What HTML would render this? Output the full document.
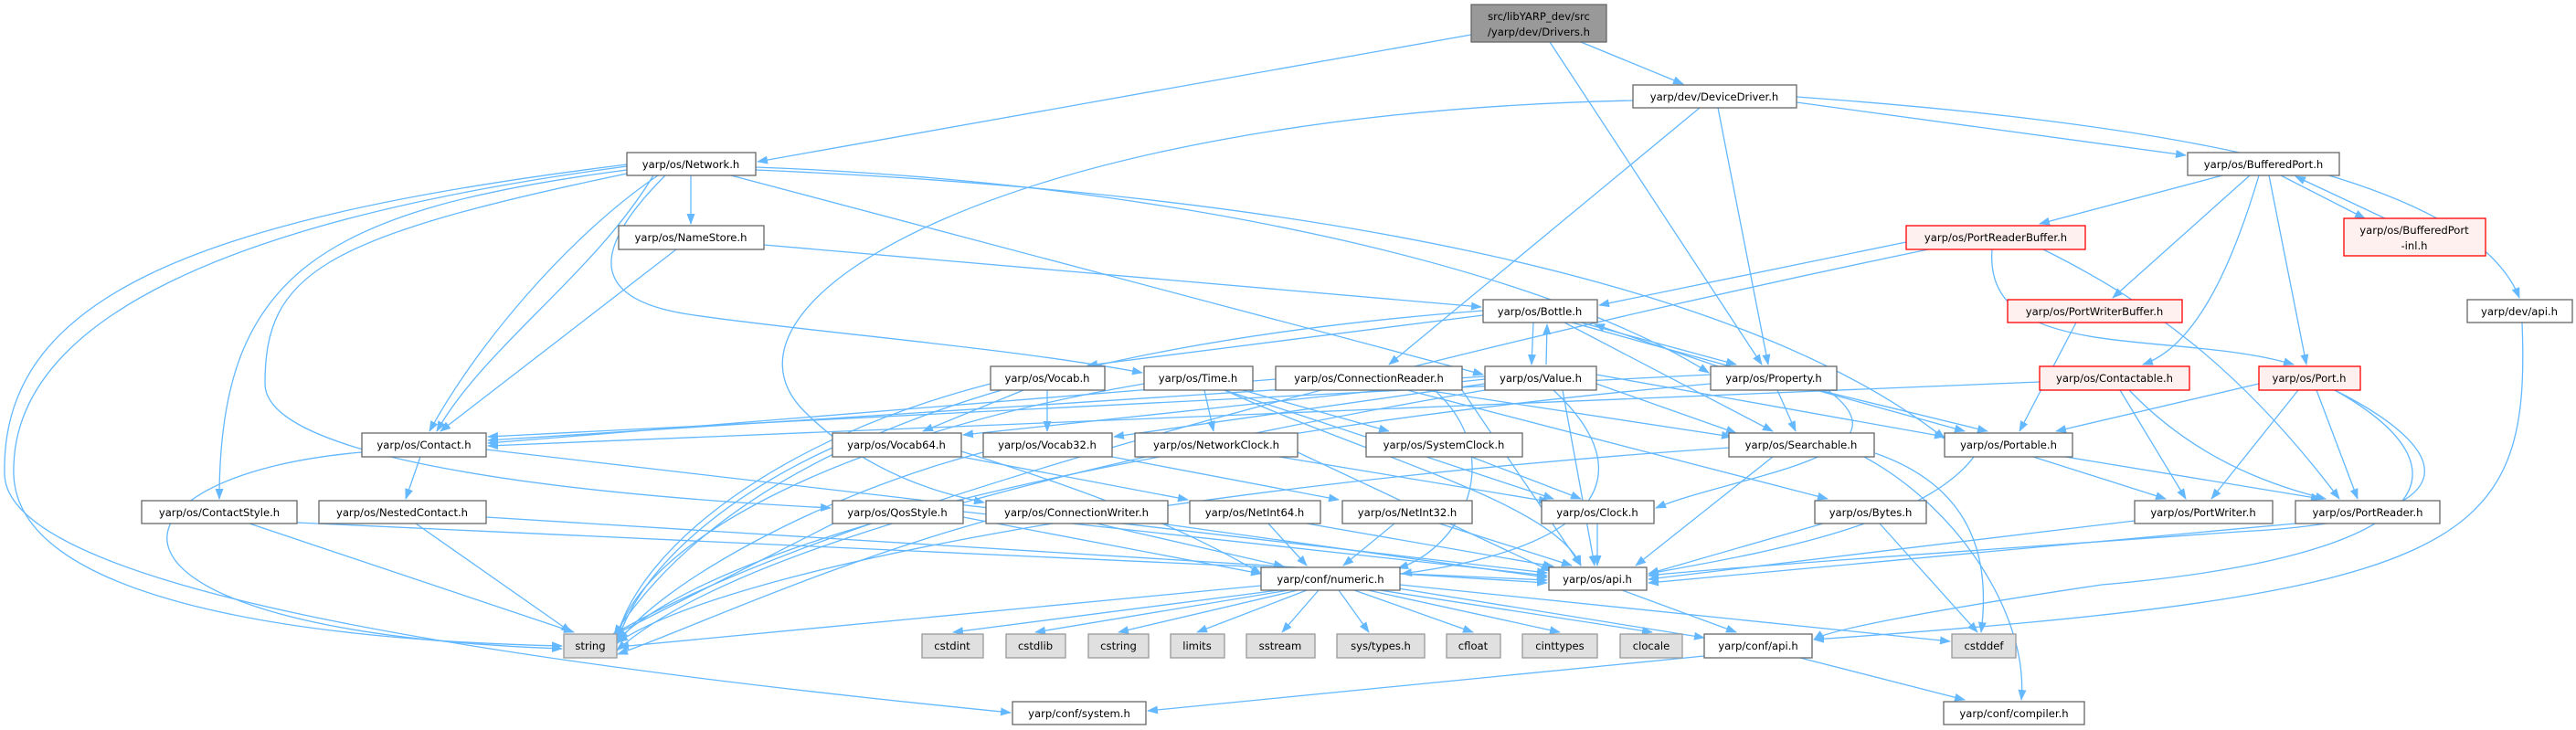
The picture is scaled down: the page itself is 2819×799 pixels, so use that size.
<!DOCTYPE html>
<html><head><meta charset="utf-8">
<style>
html,body{margin:0;padding:0;background:#fff;}
svg{display:block;}
text{font-family:"DejaVu Sans","Liberation Sans",sans-serif;font-size:11.6px;fill:#000;text-anchor:middle;}
.n rect{fill:#fff;stroke:#666;stroke-width:1.3;}
.g rect{fill:#e0e0e0;stroke:#999;stroke-width:1.3;}
.r rect{fill:#fff0f0;stroke:#f00;stroke-width:1.3;}
.e path{fill:none;stroke:#63b8ff;stroke-width:1.3;}
</style></head><body>
<svg width="2819" height="799" viewBox="0 0 2819 799" xmlns="http://www.w3.org/2000/svg">
<defs><marker id="a" markerWidth="12" markerHeight="9" refX="11" refY="4.5" orient="auto" markerUnits="userSpaceOnUse"><path d="M0,0 L12,4.5 L0,9 z" fill="#63b8ff"/></marker></defs>
<g class="e">
<path d="M1610,38 L829,177" marker-end="url(#a)"/>
<path d="M1730,46 L1842,92" marker-end="url(#a)"/>
<path d="M1696,46 L1928,399" marker-end="url(#a)"/>
<path d="M1966,112 L2392,170" marker-end="url(#a)"/>
<path d="M1966,106 C2300,130 2700,180 2757,326" marker-end="url(#a)"/>
<path d="M1880,118 L1935,399" marker-end="url(#a)"/>
<path d="M1860,118 L1520,399" marker-end="url(#a)"/>
<path d="M1787,110 C1100,125 760,330 880,450 C950,520 1030,540 1077,550" marker-end="url(#a)"/>
<path d="M756,192 L756,245" marker-end="url(#a)"/>
<path d="M720,192 C620,260 520,380 470,472" marker-end="url(#a)"/>
<path d="M715,192 C650,300 530,380 478,472" marker-end="url(#a)"/>
<path d="M686,186 C350,230 240,300 240,546" marker-end="url(#a)"/>
<path d="M686,182 C250,240 10,350 15,520 C20,650 300,700 615,707" marker-end="url(#a)"/>
<path d="M686,180 C200,240 0,330 5,520 C10,640 500,720 1106,780" marker-end="url(#a)"/>
<path d="M728,192 C640,280 650,330 760,345 C900,365 1100,380 1250,408" marker-end="url(#a)"/>
<path d="M686,190 C350,260 290,300 290,420 C290,500 600,540 909,556" marker-end="url(#a)"/>
<path d="M800,192 L1623,410" marker-end="url(#a)"/>
<path d="M827,183 C1300,200 1700,300 1870,408" marker-end="url(#a)"/>
<path d="M827,186 C1400,210 1900,300 2128,480" marker-end="url(#a)"/>
<path d="M740,273 L482,472" marker-end="url(#a)"/>
<path d="M836,268 L1621,336" marker-end="url(#a)"/>
<path d="M2432,192 L2232,245" marker-end="url(#a)"/>
<path d="M2462,192 L2312,326" marker-end="url(#a)"/>
<path d="M2472,192 C2440,300 2400,380 2345,399" marker-end="url(#a)"/>
<path d="M2483,192 L2524,399" marker-end="url(#a)"/>
<path d="M2496,192 L2588,239" marker-end="url(#a)"/>
<path d="M2610,239 L2512,193" marker-end="url(#a)"/>
<path d="M2236,273 C2350,330 2450,400 2560,546" marker-end="url(#a)"/>
<path d="M2086,265 L1750,334" marker-end="url(#a)"/>
<path d="M2110,273 C1500,400 900,560 670,695" marker-end="url(#a)"/>
<path d="M2180,273 C2170,400 2380,360 2510,399" marker-end="url(#a)"/>
<path d="M2272,353 L2210,472" marker-end="url(#a)"/>
<path d="M2760,353 C2770,600 2700,650 1985,700" marker-end="url(#a)"/>
<path d="M1623,345 L1190,400" marker-end="url(#a)"/>
<path d="M1678,353 L1676,399" marker-end="url(#a)"/>
<path d="M1692,399 L1693,355" marker-end="url(#a)"/>
<path d="M1730,353 L1900,399" marker-end="url(#a)"/>
<path d="M1880,401 L1745,355" marker-end="url(#a)"/>
<path d="M1712,353 L1940,472" marker-end="url(#a)"/>
<path d="M1720,353 L2150,472" marker-end="url(#a)"/>
<path d="M1623,340 C1100,380 800,500 672,695" marker-end="url(#a)"/>
<path d="M1625,415 L1054,476" marker-end="url(#a)"/>
<path d="M1625,420 L1219,478" marker-end="url(#a)"/>
<path d="M1747,420 L1900,474" marker-end="url(#a)"/>
<path d="M1747,410 L2128,478" marker-end="url(#a)"/>
<path d="M1700,427 C1800,520 1750,600 1534,628" marker-end="url(#a)"/>
<path d="M1710,427 L1745,619" marker-end="url(#a)"/>
<path d="M1625,427 C1200,500 800,600 675,712" marker-end="url(#a)"/>
<path d="M1625,412 L534,482" marker-end="url(#a)"/>
<path d="M1945,427 L1965,472" marker-end="url(#a)"/>
<path d="M1990,427 L2175,472" marker-end="url(#a)"/>
<path d="M1872,420 C1300,470 800,580 676,700" marker-end="url(#a)"/>
<path d="M2000,427 C2100,500 1900,520 1812,556" marker-end="url(#a)"/>
<path d="M1872,410 L534,478" marker-end="url(#a)"/>
<path d="M1318,427 L1328,472" marker-end="url(#a)"/>
<path d="M1360,427 L1520,472" marker-end="url(#a)"/>
<path d="M1340,427 L1700,546" marker-end="url(#a)"/>
<path d="M1340,427 C1500,500 1700,550 1730,619" marker-end="url(#a)"/>
<path d="M1252,420 C900,480 700,600 676,697" marker-end="url(#a)"/>
<path d="M1120,427 L1010,472" marker-end="url(#a)"/>
<path d="M1146,427 L1146,472" marker-end="url(#a)"/>
<path d="M1084,420 C850,480 700,600 675,698" marker-end="url(#a)"/>
<path d="M1396,415 L534,485" marker-end="url(#a)"/>
<path d="M1540,427 L2000,546" marker-end="url(#a)"/>
<path d="M1560,427 L1895,478" marker-end="url(#a)"/>
<path d="M1570,427 C1650,500 1600,600 1530,622" marker-end="url(#a)"/>
<path d="M1600,427 L1730,619" marker-end="url(#a)"/>
<path d="M2232,418 L534,488" marker-end="url(#a)"/>
<path d="M2320,427 L2392,546" marker-end="url(#a)"/>
<path d="M2330,427 C2400,500 2480,530 2545,546" marker-end="url(#a)"/>
<path d="M2472,420 L2250,472" marker-end="url(#a)"/>
<path d="M2515,427 L2420,546" marker-end="url(#a)"/>
<path d="M2535,427 L2580,546" marker-end="url(#a)"/>
<path d="M2555,427 C2700,500 2700,570 2450,582 C2200,600 1900,620 1804,630" marker-end="url(#a)"/>
<path d="M2555,427 C2720,520 2650,610 2300,640 C2100,670 2000,690 1985,700" marker-end="url(#a)"/>
<path d="M460,500 L444,546" marker-end="url(#a)"/>
<path d="M396,495 C100,520 60,690 615,710" marker-end="url(#a)"/>
<path d="M532,492 L1693,627" marker-end="url(#a)"/>
<path d="M1892,490 C1300,530 800,620 676,703" marker-end="url(#a)"/>
<path d="M1940,500 L1790,619" marker-end="url(#a)"/>
<path d="M2052,496 C2150,530 2180,600 2168,692" marker-end="url(#a)"/>
<path d="M2040,500 C2150,560 2220,680 2212,766" marker-end="url(#a)"/>
<path d="M2225,500 L2370,546" marker-end="url(#a)"/>
<path d="M2260,500 L2540,546" marker-end="url(#a)"/>
<path d="M2160,500 C2100,580 1900,610 1804,628" marker-end="url(#a)"/>
<path d="M911,490 C800,540 700,620 676,702" marker-end="url(#a)"/>
<path d="M1052,500 L1300,547" marker-end="url(#a)"/>
<path d="M1052,494 C1200,540 1300,580 1380,628" marker-end="url(#a)"/>
<path d="M1076,495 C900,540 720,640 676,704" marker-end="url(#a)"/>
<path d="M1217,500 L1465,547" marker-end="url(#a)"/>
<path d="M1400,500 L1695,549" marker-end="url(#a)"/>
<path d="M1420,495 L1697,625" marker-end="url(#a)"/>
<path d="M1610,500 L1730,546" marker-end="url(#a)"/>
<path d="M912,573 L670,696" marker-end="url(#a)"/>
<path d="M1054,566 L1380,628" marker-end="url(#a)"/>
<path d="M1054,560 L1693,630" marker-end="url(#a)"/>
<path d="M1200,573 L1405,620" marker-end="url(#a)"/>
<path d="M1079,570 C900,620 750,690 676,716" marker-end="url(#a)"/>
<path d="M1270,573 L1693,632" marker-end="url(#a)"/>
<path d="M1388,573 L1430,619" marker-end="url(#a)"/>
<path d="M1430,573 L1700,620" marker-end="url(#a)"/>
<path d="M1526,573 L1470,619" marker-end="url(#a)"/>
<path d="M1575,573 L1720,619" marker-end="url(#a)"/>
<path d="M1748,573 L1748,619" marker-end="url(#a)"/>
<path d="M2057,573 L2164,692" marker-end="url(#a)"/>
<path d="M1995,573 L1804,628" marker-end="url(#a)"/>
<path d="M2336,570 L1804,634" marker-end="url(#a)"/>
<path d="M2512,573 L1804,638" marker-end="url(#a)"/>
<path d="M273,573 L628,692" marker-end="url(#a)"/>
<path d="M325,572 L1693,635" marker-end="url(#a)"/>
<path d="M455,573 L625,692" marker-end="url(#a)"/>
<path d="M532,566 L1693,638" marker-end="url(#a)"/>
<path d="M1399,646 L1043,692" marker-end="url(#a)"/>
<path d="M1410,646 L1133,692" marker-end="url(#a)"/>
<path d="M1420,646 L1224,692" marker-end="url(#a)"/>
<path d="M1430,646 L1310,692" marker-end="url(#a)"/>
<path d="M1443,646 L1403,692" marker-end="url(#a)"/>
<path d="M1465,646 L1498,692" marker-end="url(#a)"/>
<path d="M1482,646 L1612,692" marker-end="url(#a)"/>
<path d="M1497,646 L1707,692" marker-end="url(#a)"/>
<path d="M1510,646 L1808,692" marker-end="url(#a)"/>
<path d="M1530,644 L1865,698" marker-end="url(#a)"/>
<path d="M1532,640 L2134,702" marker-end="url(#a)"/>
<path d="M1380,641 L677,708" marker-end="url(#a)"/>
<path d="M1775,646 L1900,692" marker-end="url(#a)"/>
<path d="M1865,718 L1256,778" marker-end="url(#a)"/>
<path d="M1970,720 L2150,766" marker-end="url(#a)"/>
</g>
<g class="g"><rect x="1610" y="5" width="148" height="41" style="fill:#999;stroke:#666"/><text x="1684" y="22">src/libYARP_dev/src</text><text x="1684" y="39">/yarp/dev/Drivers.h</text></g>
<g class="n"><rect x="1787" y="93" width="179" height="25"/><text x="1876" y="110">yarp/dev/DeviceDriver.h</text></g>
<g class="n"><rect x="686" y="167" width="141" height="25"/><text x="756" y="184">yarp/os/Network.h</text></g>
<g class="n"><rect x="2394" y="167" width="166" height="25"/><text x="2477" y="184">yarp/os/BufferedPort.h</text></g>
<g class="n"><rect x="677" y="247" width="159" height="26"/><text x="756" y="264">yarp/os/NameStore.h</text></g>
<g class="r"><rect x="2086" y="247" width="196" height="26"/><text x="2184" y="264">yarp/os/PortReaderBuffer.h</text></g>
<g class="r"><rect x="2565" y="239" width="155" height="41"/><text x="2642" y="256">yarp/os/BufferedPort</text><text x="2642" y="273">-inl.h</text></g>
<g class="n"><rect x="1623" y="328" width="125" height="25"/><text x="1685" y="345">yarp/os/Bottle.h</text></g>
<g class="r"><rect x="2197" y="328" width="191" height="25"/><text x="2292" y="345">yarp/os/PortWriterBuffer.h</text></g>
<g class="n"><rect x="2700" y="328" width="115" height="25"/><text x="2757" y="345">yarp/dev/api.h</text></g>
<g class="n"><rect x="1084" y="401" width="125" height="26"/><text x="1146" y="418">yarp/os/Vocab.h</text></g>
<g class="n"><rect x="1252" y="401" width="119" height="26"/><text x="1311" y="418">yarp/os/Time.h</text></g>
<g class="n"><rect x="1396" y="401" width="204" height="26"/><text x="1498" y="418">yarp/os/ConnectionReader.h</text></g>
<g class="n"><rect x="1625" y="401" width="122" height="26"/><text x="1686" y="418">yarp/os/Value.h</text></g>
<g class="n"><rect x="1872" y="401" width="138" height="26"/><text x="1941" y="418">yarp/os/Property.h</text></g>
<g class="r"><rect x="2232" y="401" width="164" height="26"/><text x="2314" y="418">yarp/os/Contactable.h</text></g>
<g class="r"><rect x="2472" y="401" width="111" height="26"/><text x="2527" y="418">yarp/os/Port.h</text></g>
<g class="n"><rect x="396" y="474" width="136" height="26"/><text x="464" y="491">yarp/os/Contact.h</text></g>
<g class="n"><rect x="911" y="474" width="141" height="26"/><text x="981" y="491">yarp/os/Vocab64.h</text></g>
<g class="n"><rect x="1076" y="474" width="141" height="26"/><text x="1146" y="491">yarp/os/Vocab32.h</text></g>
<g class="n"><rect x="1242" y="474" width="178" height="26"/><text x="1331" y="491">yarp/os/NetworkClock.h</text></g>
<g class="n"><rect x="1495" y="474" width="171" height="26"/><text x="1580" y="491">yarp/os/SystemClock.h</text></g>
<g class="n"><rect x="1892" y="474" width="159" height="26"/><text x="1971" y="491">yarp/os/Searchable.h</text></g>
<g class="n"><rect x="2128" y="474" width="140" height="26"/><text x="2198" y="491">yarp/os/Portable.h</text></g>
<g class="n"><rect x="155" y="548" width="170" height="25"/><text x="240" y="565">yarp/os/ContactStyle.h</text></g>
<g class="n"><rect x="349" y="548" width="183" height="25"/><text x="440" y="565">yarp/os/NestedContact.h</text></g>
<g class="n"><rect x="911" y="548" width="143" height="25"/><text x="982" y="565">yarp/os/QosStyle.h</text></g>
<g class="n"><rect x="1079" y="548" width="199" height="25"/><text x="1178" y="565">yarp/os/ConnectionWriter.h</text></g>
<g class="n"><rect x="1302" y="548" width="143" height="25"/><text x="1373" y="565">yarp/os/NetInt64.h</text></g>
<g class="n"><rect x="1469" y="548" width="142" height="25"/><text x="1540" y="565">yarp/os/NetInt32.h</text></g>
<g class="n"><rect x="1687" y="548" width="123" height="25"/><text x="1748" y="565">yarp/os/Clock.h</text></g>
<g class="n"><rect x="1986" y="548" width="122" height="25"/><text x="2047" y="565">yarp/os/Bytes.h</text></g>
<g class="n"><rect x="2336" y="548" width="151" height="25"/><text x="2411" y="565">yarp/os/PortWriter.h</text></g>
<g class="n"><rect x="2512" y="548" width="158" height="25"/><text x="2591" y="565">yarp/os/PortReader.h</text></g>
<g class="n"><rect x="1380" y="621" width="152" height="25"/><text x="1456" y="638">yarp/conf/numeric.h</text></g>
<g class="n"><rect x="1695" y="621" width="107" height="25"/><text x="1748" y="638">yarp/os/api.h</text></g>
<g class="g"><rect x="617" y="694" width="58" height="26"/><text x="646" y="711">string</text></g>
<g class="g"><rect x="1009" y="694" width="67" height="26"/><text x="1042" y="711">cstdint</text></g>
<g class="g"><rect x="1101" y="694" width="65" height="26"/><text x="1133" y="711">cstdlib</text></g>
<g class="g"><rect x="1191" y="694" width="66" height="26"/><text x="1224" y="711">cstring</text></g>
<g class="g"><rect x="1281" y="694" width="59" height="26"/><text x="1310" y="711">limits</text></g>
<g class="g"><rect x="1364" y="694" width="75" height="26"/><text x="1401" y="711">sstream</text></g>
<g class="g"><rect x="1463" y="694" width="96" height="26"/><text x="1511" y="711">sys/types.h</text></g>
<g class="g"><rect x="1583" y="694" width="59" height="26"/><text x="1612" y="711">cfloat</text></g>
<g class="g"><rect x="1666" y="694" width="82" height="26"/><text x="1707" y="711">cinttypes</text></g>
<g class="g"><rect x="1773" y="694" width="68" height="26"/><text x="1807" y="711">clocale</text></g>
<g class="n"><rect x="1865" y="694" width="118" height="26"/><text x="1924" y="711">yarp/conf/api.h</text></g>
<g class="g"><rect x="2136" y="694" width="70" height="26"/><text x="2171" y="711">cstddef</text></g>
<g class="n"><rect x="1108" y="768" width="146" height="25"/><text x="1181" y="785">yarp/conf/system.h</text></g>
<g class="n"><rect x="2127" y="768" width="154" height="25"/><text x="2204" y="785">yarp/conf/compiler.h</text></g>
</svg>
</body></html>
